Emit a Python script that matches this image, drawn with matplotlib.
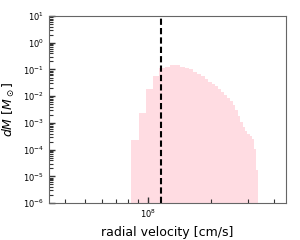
import numpy as np
import matplotlib
matplotlib.use("Agg")
import matplotlib.pyplot as plt
from matplotlib.ticker import FixedLocator, NullFormatter

# velocity bins (cm/s), linear spacing
bin_edges = np.linspace(8.3e7, 3.36e8, 35)
# log10 of dM per bin
log_dm = [-3.64, -2.63, -1.73, -1.24, -0.96, -0.92, -0.835, -0.85, -0.90, -0.96,
          -1.00, -1.09, -1.15, -1.25, -1.36, -1.45, -1.53, -1.62, -1.73, -1.83,
          -1.94, -2.05, -2.18, -2.33, -2.52, -2.75, -2.97, -3.16, -3.31, -3.42,
          -3.49, -3.61, -3.98, -4.77]
dm = 10 ** np.array(log_dm)
v_line = 1.154e8

fig = plt.figure(figsize=(3, 2.4), dpi=100)
ax = fig.add_axes([0.163, 0.154, 0.79, 0.779])

ax.hist(bin_edges[:-1], bins=bin_edges, weights=dm, color='pink', alpha=0.55)
ax.axvline(v_line, color='k', ls=(0, (3, 1.5)), lw=1.5)

ax.set_xscale('log')
ax.set_yscale('log')
ax.set_xlim(3.36e7, 4.57e8)
ax.set_ylim(1e-6, 1e1)
ax.set_yticks([10.0 ** k for k in range(-6, 2)])
ymin = [m * 10.0 ** k for k in range(-6, 1) for m in range(2, 10)]
ax.yaxis.set_minor_locator(FixedLocator(ymin))
ax.yaxis.set_minor_formatter(NullFormatter())
xmin = [m * 10.0 ** k for k in (7, 8) for m in range(2, 10)]
ax.xaxis.set_minor_locator(FixedLocator(xmin))
ax.xaxis.set_minor_formatter(NullFormatter())

ax.tick_params(which='both', direction='in', labelsize=6, color='#333333',
               left=True, bottom=True, right=False, top=False)
ax.tick_params(which='major', length=4, width=1)
ax.tick_params(which='minor', length=3, width=0.8)
for s in ax.spines.values():
    s.set_color('#666666')

ax.set_xlabel('radial velocity [cm/s]', fontsize=9)
ax.set_ylabel(r'$dM$ [$M_\odot$]', fontsize=9)

fig.savefig('out.png', dpi=100)
